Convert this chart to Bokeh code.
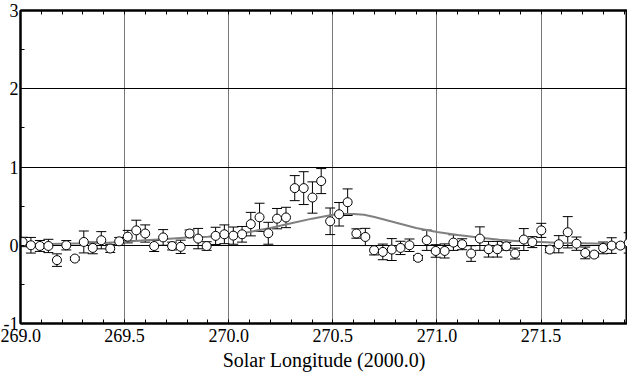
from bokeh.plotting import figure
from bokeh.models import (Range1d, LinearAxis, Whisker, ColumnDataSource, TeeHead,
                          SingleIntervalTicker, FixedTicker, PrintfTickFormatter)
from bokeh.embed import file_html
from bokeh.resources import INLINE

# observed points (solar longitude, value, error)
solar_longitude = [269.010, 269.050, 269.093, 269.134, 269.175, 269.220, 269.261, 269.304,
                   269.347, 269.388, 269.431, 269.474, 269.515, 269.556, 269.599, 269.642,
                   269.685, 269.728, 269.769, 269.812, 269.853, 269.894, 269.937, 269.979,
                   270.022, 270.064, 270.106, 270.148, 270.190, 270.232, 270.275, 270.317,
                   270.360, 270.402, 270.444, 270.487, 270.530, 270.571, 270.613, 270.656,
                   270.698, 270.740, 270.783, 270.825, 270.868, 270.909, 270.951, 270.994,
                   271.037, 271.079, 271.121, 271.164, 271.206, 271.248, 271.290, 271.333,
                   271.375, 271.417, 271.458, 271.501, 271.542, 271.585, 271.628, 271.670,
                   271.712, 271.755, 271.798, 271.839, 271.881, 271.921]
rate = [0.042, 0.000, -0.009, -0.009, -0.190, 0.000, -0.170, 0.042,
        -0.034, 0.064, -0.042, 0.050, 0.110, 0.190, 0.150, -0.010,
        0.100, -0.010, -0.020, 0.150, 0.085, -0.010, 0.120, 0.140,
        0.123, 0.140, 0.270, 0.357, 0.153, 0.340, 0.355, 0.730,
        0.730, 0.610, 0.820, 0.306, 0.396, 0.550, 0.150, 0.106,
        -0.064, -0.085, -0.055, -0.034, 0.000, -0.160, 0.064, -0.073,
        -0.073, 0.034, 0.013, -0.106, 0.085, -0.051, -0.051, -0.013,
        -0.106, 0.073, 0.040, 0.190, -0.055, 0.013, 0.166, 0.020,
        -0.098, -0.119, -0.034, -0.004, -0.004, 0.030]
rate_err = [0.06, 0.10, 0.07, 0.085, 0.08, 0.06, 0.02, 0.14,
            0.075, 0.11, 0.05, 0.05, 0.08, 0.13, 0.11, 0.07,
            0.10, 0.05, 0.085, 0.045, 0.13, 0.055, 0.11, 0.12,
            0.11, 0.10, 0.15, 0.18, 0.14, 0.13, 0.13, 0.16,
            0.21, 0.20, 0.16, 0.17, 0.15, 0.17, 0.06, 0.11,
            0.06, 0.10, 0.14, 0.085, 0.08, 0.03, 0.13, 0.08,
            0.09, 0.10, 0.07, 0.10, 0.15, 0.10, 0.10, 0.05,
            0.07, 0.14, 0.07, 0.09, 0.04, 0.11, 0.20, 0.085,
            0.075, 0.03, 0.075, 0.10, 0.03, 0.13]

# model curve (grey line)
model_longitude = [269.0, 269.2, 269.4, 269.5, 269.6, 269.7, 269.8, 269.9, 270.0, 270.1,
                   270.2, 270.3, 270.4, 270.5, 270.55, 270.6, 270.65, 270.7, 270.8, 270.9,
                   271.0, 271.1, 271.2, 271.3, 271.4, 271.5, 271.6, 271.7, 271.8, 271.92]
model_rate = [0.01, 0.02, 0.03, 0.045, 0.065, 0.08, 0.10, 0.11, 0.13, 0.17,
              0.22, 0.28, 0.34, 0.39, 0.40, 0.40, 0.39, 0.36, 0.29, 0.22,
              0.17, 0.13, 0.10, 0.07, 0.05, 0.04, 0.03, 0.025, 0.02, 0.02]

x_label = "Solar Longitude (2000.0)"
top_minor_ticks = [round(269.0 + 0.1 * i, 1) for i in range(30)]

SERIF = "serif"

p = figure(width=627, height=376, x_range=Range1d(269.0, 271.915), y_range=Range1d(-1, 3),
           output_backend="svg", toolbar_location=None,
           min_border_left=0, min_border_right=0, min_border_top=10, min_border_bottom=53)
p.background_fill_color = "white"
p.border_fill_color = "white"
p.outline_line_color = "black"
p.outline_line_width = 2

xt = SingleIntervalTicker(interval=0.5, num_minor_ticks=5)
yt = SingleIntervalTicker(interval=1, num_minor_ticks=2)
p.xaxis.ticker = xt
p.yaxis.ticker = yt
p.xgrid.ticker = xt
p.ygrid.ticker = yt
p.xaxis.formatter = PrintfTickFormatter(format="%.1f")
p.yaxis.formatter = PrintfTickFormatter(format="%d")

p.xgrid.grid_line_color = "#777777"
p.xgrid.grid_line_width = 1
p.ygrid.grid_line_color = "black"
p.ygrid.grid_line_width = 1

for ax in (p.xaxis[0], p.yaxis[0]):
    ax.axis_line_width = 2
    ax.axis_line_color = "black"
    ax.major_tick_in = 0
    ax.major_tick_out = 0
    ax.minor_tick_in = 4
    ax.minor_tick_out = 0
    ax.minor_tick_line_color = "black"
    ax.major_label_text_font = SERIF
    ax.major_label_text_font_size = "18px"
    ax.major_label_text_color = "black"

p.xaxis.major_label_standoff = 5
p.yaxis.major_label_standoff = 2
p.xaxis.axis_label = x_label
p.xaxis.axis_label_text_font = SERIF
p.xaxis.axis_label_text_font_size = "20px"
p.xaxis.axis_label_text_font_style = "normal"
p.xaxis.axis_label_text_color = "black"
p.xaxis.axis_label_standoff = 4

top = LinearAxis(ticker=FixedTicker(ticks=[], minor_ticks=top_minor_ticks),
                 axis_line_width=2, major_tick_in=0, major_tick_out=0,
                 minor_tick_in=4, minor_tick_out=0, major_label_standoff=0)
p.add_layout(top, "above")

p.line(model_longitude, model_rate, line_color="#808080", line_width=2)

src = ColumnDataSource(dict(x=solar_longitude, y=rate,
                            upper=[r + e for r, e in zip(rate, rate_err)],
                            lower=[r - e for r, e in zip(rate, rate_err)]))
w = Whisker(base="x", upper="upper", lower="lower", source=src,
            line_color="black", line_width=1,
            upper_head=TeeHead(size=10, line_color="black", line_width=1),
            lower_head=TeeHead(size=10, line_color="black", line_width=1))
p.add_layout(w)

p.scatter("x", "y", source=src, marker="circle", size=9, fill_color="white",
          line_color="black", line_width=1)

open("out.html", "w").write(file_html(p, INLINE))
